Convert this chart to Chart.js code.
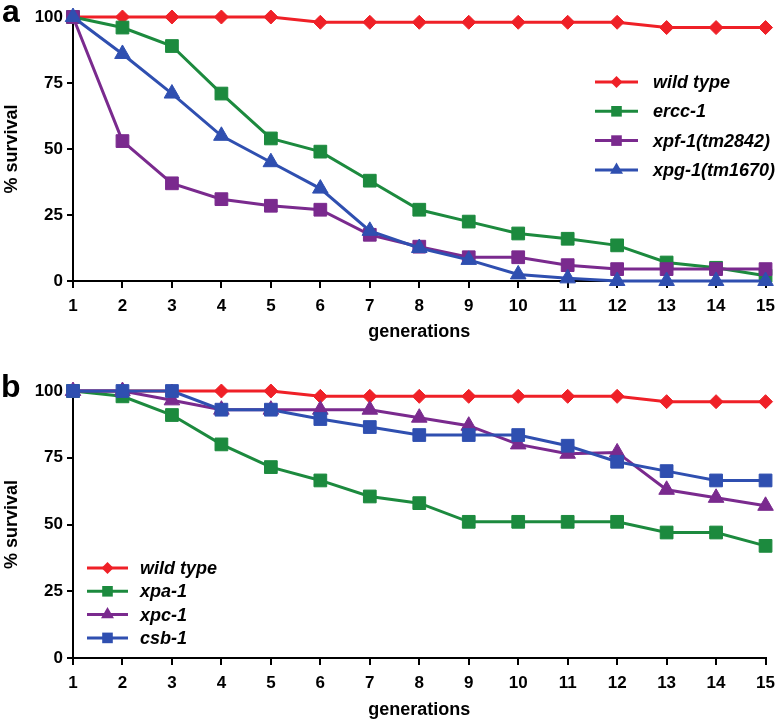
<!DOCTYPE html>
<html>
<head>
<meta charset="utf-8">
<script src="https://cdn.jsdelivr.net/npm/chart.js@4/dist/chart.umd.min.js"></script>
<style>
  html, body { margin: 0; padding: 0; background: #fff; }
  #wrap { position: relative; width: 783px; height: 722px; overflow: hidden; background: #fff; }
  canvas { position: absolute; left: 0; }
</style>
</head>
<body>
<div id="wrap">
  <canvas id="ca" width="783" height="350" style="top:0px"></canvas>
  <canvas id="cb" width="783" height="372" style="top:350px"></canvas>
</div>
<script>
// ---------- data ----------
const generations = ['1','2','3','4','5','6','7','8','9','10','11','12','13','14','15'];
const yTicks = [0, 25, 50, 75, 100];

// panel a
const labelsA = ['wild type', 'ercc-1', 'xpf-1(tm2842)', 'xpg-1(tm1670)'];
const wildTypeA = [100,100,100,100,100,98,98,98,98,98,98,98,96,96,96];
const ercc1     = [100,96,89,71,54,49,38,27,22.5,18,16,13.5,7,5,2];
const xpf1      = [100,53,37,31,28.5,27,17.5,13,9,9,6,4.5,4.5,4.5,4.5];
const xpg1      = [100,86,71,55,45,35,19,12.5,8,2.5,1,0,0,0,0];

// panel b
const labelsB = ['wild type', 'xpa-1', 'xpc-1', 'csb-1'];
const wildTypeB = [100,100,100,100,100,98,98,98,98,98,98,98,96,96,96];
const xpa1      = [100,98,91,80,71.5,66.5,60.5,58,51,51,51,51,47,47,42];
const xpc1      = [100,100,96.5,93,93,93,93,90,87,80,76.5,77,63,60,57];
const csb1      = [100,100,100,93,93,89.5,86.5,83.5,83.5,83.5,79.5,73.5,70,66.5,66.5];

// ---------- styles ----------
const RED = '#ef2027', GREEN = '#1c8a3e', PURPLE = '#7a2a8e', BLUE = '#2f4fb0';
const FONT = "'Liberation Sans', Arial, Helvetica, sans-serif";
Chart.defaults.font.family = FONT;
Chart.defaults.color = '#000';

function ds(label, data, color, style, order) {
  const r = style === 'rectRot' ? 7 : (style === 'triangle' ? 9 : 9);
  return {
    label, data, order,
    borderColor: color, backgroundColor: color,
    borderWidth: 3, pointStyle: style, pointRadius: r, pointHoverRadius: r,
    pointBorderWidth: 1, pointBorderColor: color, pointBackgroundColor: color,
    tension: 0, clip: false, fill: false
  };
}

function drawMarker(ctx, style, x, y, r) {
  ctx.beginPath();
  if (style === 'rect') {
    const s = Math.SQRT1_2 * r;
    ctx.rect(x - s, y - s, 2 * s, 2 * s);
  } else if (style === 'rectRot') {
    ctx.moveTo(x - r, y); ctx.lineTo(x, y - r); ctx.lineTo(x + r, y); ctx.lineTo(x, y + r); ctx.closePath();
  } else if (style === 'triangle') {
    let a = 0;
    ctx.moveTo(x + Math.sin(a) * r, y - Math.cos(a) * r);
    a += 2 * Math.PI / 3; ctx.lineTo(x + Math.sin(a) * r, y - Math.cos(a) * r);
    a += 2 * Math.PI / 3; ctx.lineTo(x + Math.sin(a) * r, y - Math.cos(a) * r);
    ctx.closePath();
  }
  ctx.fill();
}

const panelPlugin = {
  id: 'panelDecor',
  afterDraw(chart, args, opts) {
    const ctx = chart.ctx;
    ctx.save();
    // panel letter
    ctx.fillStyle = '#000';
    ctx.font = 'bold 32px ' + FONT;
    ctx.textBaseline = 'alphabetic';
    ctx.textAlign = 'left';
    ctx.fillText(opts.letter, opts.letterX, opts.letterY);
    // legend
    chart.data.datasets.forEach((d, i) => {
      const y = opts.y0 + i * opts.dy;
      ctx.strokeStyle = d.borderColor;
      ctx.lineWidth = 3;
      ctx.beginPath();
      ctx.moveTo(opts.x0, y); ctx.lineTo(opts.x1, y);
      ctx.stroke();
      ctx.fillStyle = d.borderColor;
      drawMarker(ctx, d.pointStyle, (opts.x0 + opts.x1) / 2, y, d.pointStyle === 'rectRot' ? 6 : 7.5);
      ctx.fillStyle = '#000';
      ctx.font = 'italic bold 18px ' + FONT;
      ctx.textBaseline = 'middle';
      ctx.fillText(d.label, opts.tx, y + 1);
    });
    ctx.restore();
  }
};

function makeOptions(H, areaTop, areaBottom, titlePadBottom, decor) {
  return {
    responsive: false,
    animation: false,
    events: [],
    layout: { padding: { left: 0, right: 12, top: areaTop, bottom: 0 } },
    plugins: {
      legend: { display: false },
      tooltip: { enabled: false },
      panelDecor: decor
    },
    scales: {
      x: {
        type: 'category',
        offset: false,
        afterFit: s => { s.height = H - areaBottom; },
        grid: { display: true, drawOnChartArea: false, drawTicks: true, tickLength: 7, color: '#000', lineWidth: 2, offset: false },
        border: { display: true, color: '#000', width: 2 },
        ticks: { color: '#000', font: { size: 17, weight: 'bold' }, padding: 8, maxRotation: 0, autoSkip: false },
        title: { display: true, text: 'generations', color: '#000', font: { size: 18, weight: 'bold' }, padding: { top: 0, bottom: titlePadBottom } }
      },
      y: {
        min: 0, max: 100,
        afterFit: s => { s.width = 73; },
        afterBuildTicks: s => { s.ticks = yTicks.map(v => ({ value: v })); },
        grid: { display: true, drawOnChartArea: false, drawTicks: true, tickLength: 6, color: '#000', lineWidth: 2 },
        border: { display: true, color: '#000', width: 2 },
        ticks: { color: '#000', font: { size: 17, weight: 'bold' }, padding: 4 },
        title: { display: true, text: '% survival', color: '#000', font: { size: 18, weight: 'bold' }, padding: { top: 1, bottom: 0 } }
      }
    }
  };
}

new Chart(document.getElementById('ca'), {
  type: 'line',
  data: {
    labels: generations,
    datasets: [
      ds(labelsA[0], wildTypeA, RED, 'rectRot', 4),
      ds(labelsA[1], ercc1, GREEN, 'rect', 3),
      ds(labelsA[2], xpf1, PURPLE, 'rect', 2),
      ds(labelsA[3], xpg1, BLUE, 'triangle', 1)
    ]
  },
  options: makeOptions(350, 17, 281, 7, {
    letter: 'a', letterX: 2, letterY: 22,
    x0: 595, x1: 638, tx: 653, y0: 82, dy: 29.3
  }),
  plugins: [panelPlugin]
});

new Chart(document.getElementById('cb'), {
  type: 'line',
  data: {
    labels: generations,
    datasets: [
      ds(labelsB[0], wildTypeB, RED, 'rectRot', 4),
      ds(labelsB[1], xpa1, GREEN, 'rect', 3),
      ds(labelsB[2], xpc1, PURPLE, 'triangle', 2),
      ds(labelsB[3], csb1, BLUE, 'rect', 1)
    ]
  },
  options: makeOptions(372, 41, 308, 1, {
    letter: 'b', letterX: 1, letterY: 47,
    x0: 87, x1: 128, tx: 140, y0: 218, dy: 23.3
  }),
  plugins: [panelPlugin]
});
</script>
</body>
</html>
